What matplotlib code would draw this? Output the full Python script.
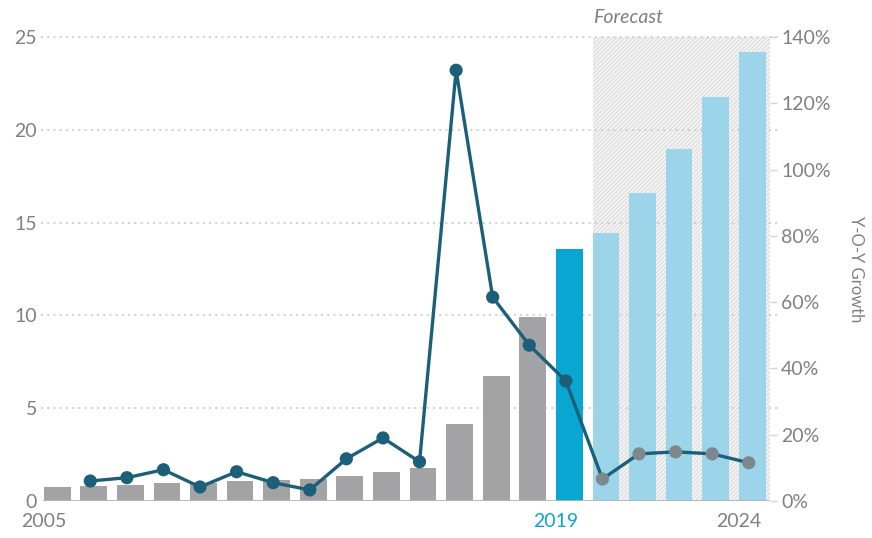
import matplotlib
matplotlib.use("Agg")
import matplotlib.pyplot as plt
import numpy as np

plt.rcParams['font.family'] = ['Lato', 'DejaVu Sans']
plt.rcParams['hatch.linewidth'] = 0.7

# market size by year (left axis) and year-over-year growth (right axis)
years = list(range(2005, 2025))
values = [0.75, 0.8, 0.86, 0.94, 0.98, 1.07, 1.12, 1.16, 1.32, 1.57, 1.78,
          4.15, 6.75, 9.9, 13.6, 14.45, 16.6, 18.95, 21.75, 24.2]
growth_years = list(range(2006, 2025))
growth = [6.0, 7.0, 9.4, 4.2, 8.8, 5.5, 3.3, 12.7, 19.0, 11.8,
          130.0, 61.5, 47.0, 36.2, 6.6, 14.2, 14.8, 14.2, 11.5]

left_ticks = [0, 5, 10, 15, 20, 25]
right_ticks = [0, 20, 40, 60, 80, 100, 120, 140]
year_labels = {2005: "2005", 2019: "2019", 2024: "2024"}

last_actual = 2019
forecast_start = 2020

grey_bar = "#a3a3a5"
hi_bar = "#0aa6d2"
fc_bar = "#9cd5ea"
line_col = "#1c5f79"
fc_marker = "#7d888d"
text_col = "#808080"

fig = plt.figure(figsize=(8.72, 5.38), dpi=100)
ax = fig.add_axes([0.049, 0.069, 0.834, 0.862])
ax2 = ax.twinx()

bar_w = 0.73
colors = []
for y in years:
    if y < last_actual:
        colors.append(grey_bar)
    elif y == last_actual:
        colors.append(hi_bar)
    else:
        colors.append(fc_bar)

# hatched forecast band
ax.axvspan(forecast_start, 2024.85, facecolor="#f4f4f4", edgecolor="#d8d8d8",
           hatch="////////", linewidth=0, zorder=0)

ax.bar(years, values, width=bar_w, align="edge", color=colors, zorder=2)

# dotted gridlines on the left scale
for t in left_ticks[1:]:
    ax.axhline(t, xmin=-0.003, xmax=1.015, color="#cfcfcf", lw=1.4,
               ls=(0, (1, 2.2)), zorder=1, clip_on=False)
ax.axhline(0, color="#b4b4b4", lw=2, zorder=3)

ax.set_xlim(2004.97, 2024.85)
ax.set_ylim(0, 25)
ax.set_yticks(left_ticks)
ax.set_yticklabels([str(t) for t in left_ticks], color=text_col, fontsize=14)
ax.tick_params(axis="y", length=0, pad=4)
ax.set_xticks(list(year_labels.keys()))
ax.set_xticklabels(list(year_labels.values()), fontsize=14)
ax.tick_params(axis="x", length=0, pad=9)
for lbl in ax.get_xticklabels():
    lbl.set_color(hi_bar if lbl.get_text() == str(last_actual) else text_col)
for s in ax.spines.values():
    s.set_visible(False)

# growth line
gx = np.array(growth_years) + 0.27
ax2.plot(gx, growth, color=line_col, lw=2.4, zorder=4)
mcols = [fc_marker if y >= forecast_start else line_col for y in growth_years]
ax2.scatter(gx, growth, s=90, c=mcols, zorder=5, linewidths=0)
ax2.set_ylim(0, 140)
ax2.set_yticks(right_ticks)
ax2.set_yticklabels([f"{t}%" for t in right_ticks], color=text_col, fontsize=14)
ax2.tick_params(axis="y", length=5, width=1, color="#d4d4d4", pad=3)
for s in ax2.spines.values():
    s.set_visible(False)
ax2.set_ylabel("Y-O-Y Growth", color=text_col, fontsize=12, rotation=-90,
               labelpad=24)

ax.text(forecast_start + 0.02, 25.6, "Forecast", fontstyle="italic",
        color=text_col, fontsize=14, ha="left", va="bottom")

fig.savefig("out.png", dpi=100)
